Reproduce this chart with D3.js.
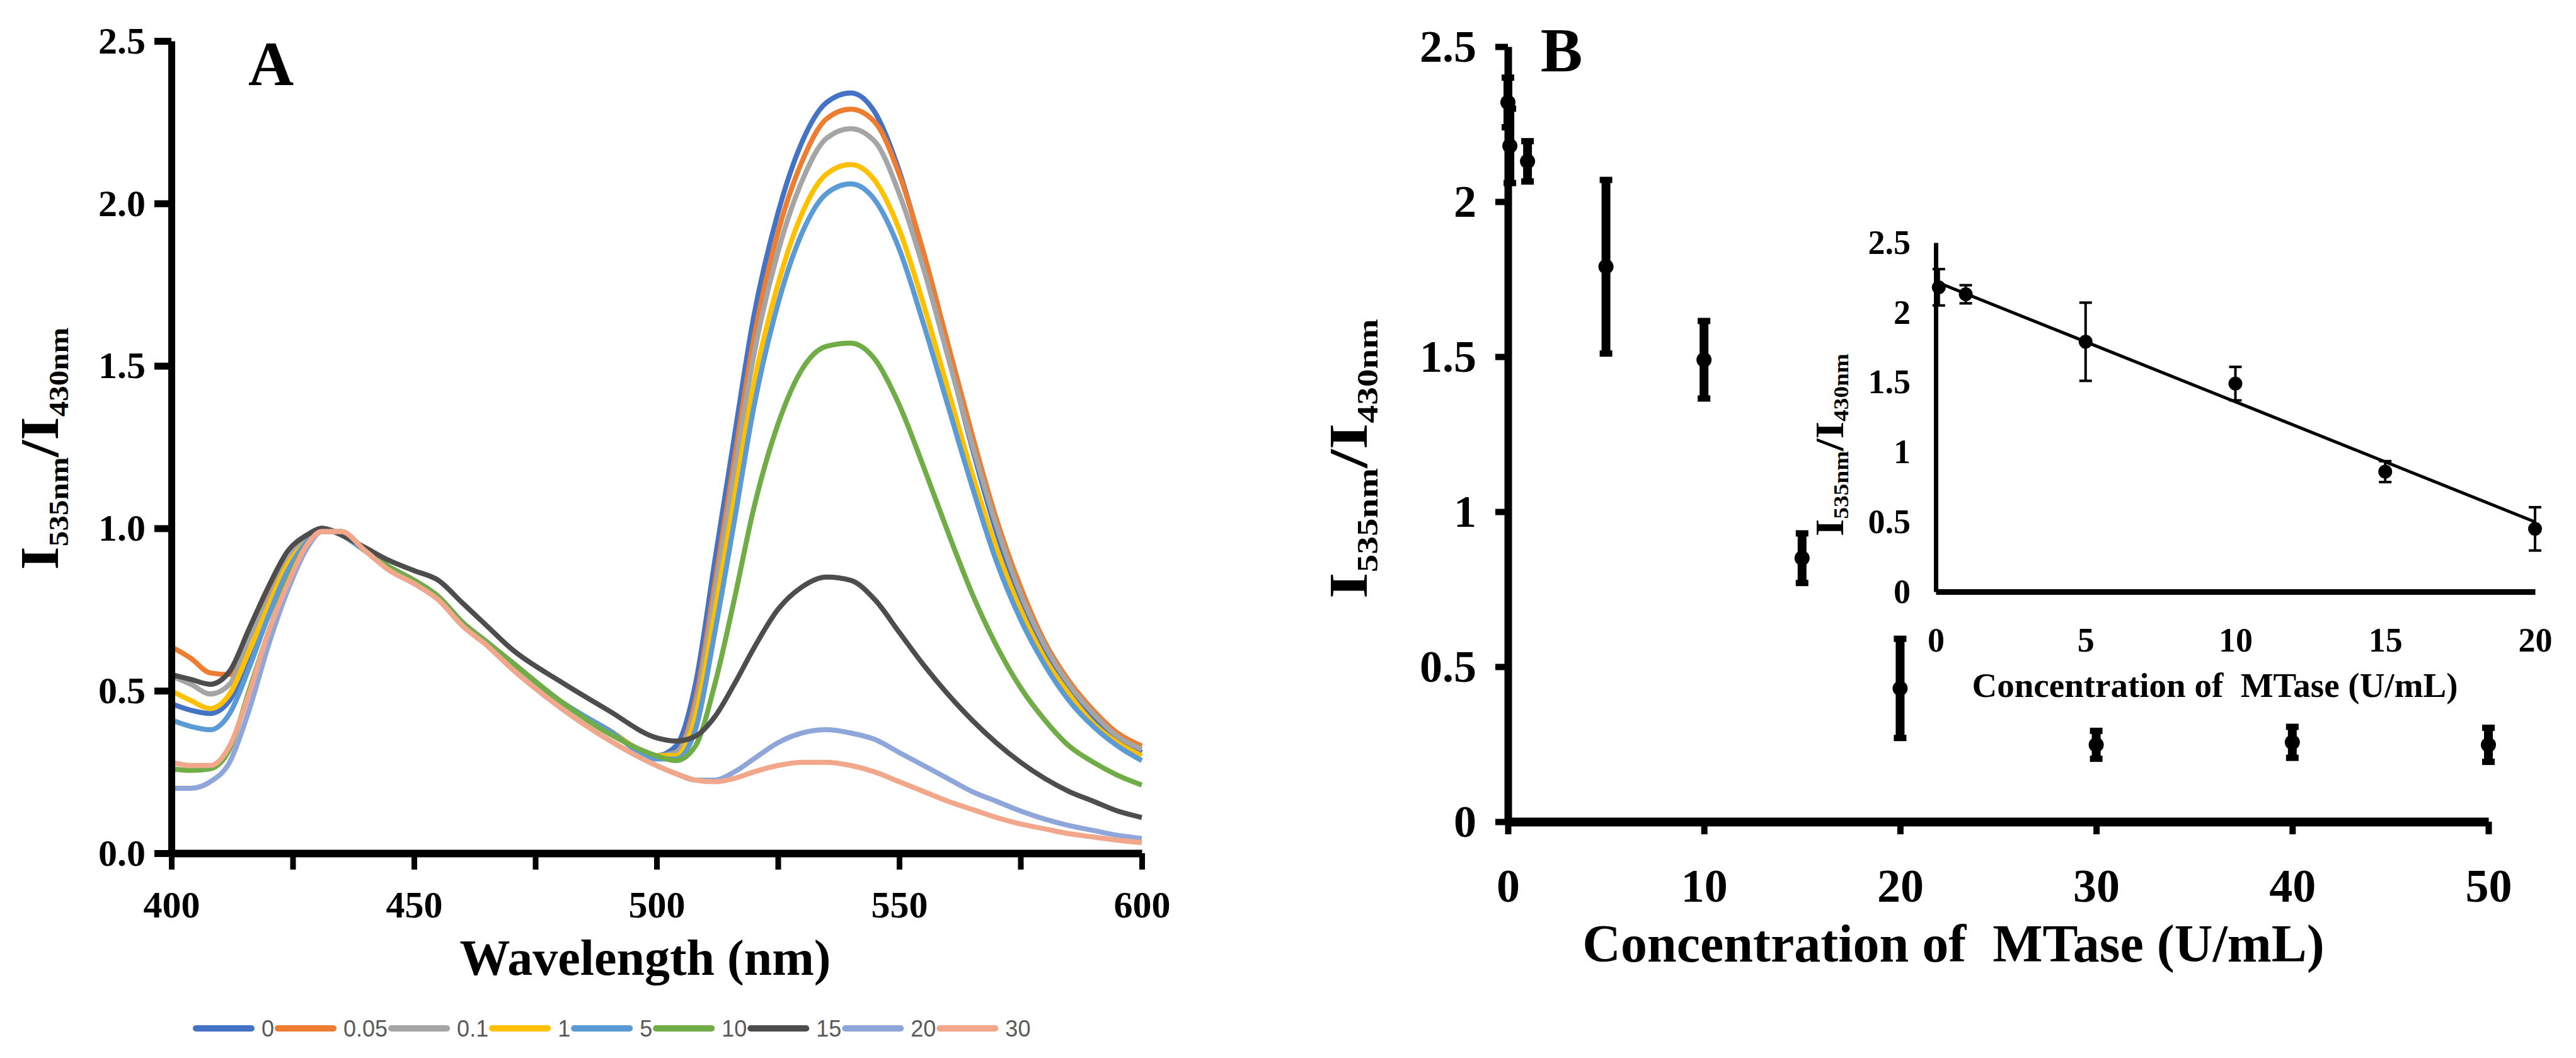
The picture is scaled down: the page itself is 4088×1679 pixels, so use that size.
<!DOCTYPE html>
<html lang="en">
<head>
<meta charset="utf-8">
<title>MTase ratio spectra</title>
<script src="https://d3js.org/d3.v7.min.js"></script>
<style>
  body { margin: 0; background: #ffffff; }
  svg text { font-family: "Liberation Serif", "Times New Roman", serif; font-weight: bold; }
</style>
</head>
<body>
<script>
// ---- panel A: ratio spectra for each MTase concentration (U/mL) ----
const wavelengths = [400,404,408,412,416,420,424,428,431,435,440,445,450,455,460,465,470,480,490,500,
                     504,508,512,516,520,525,530,535,540,545,550,555,560,565,570,575,580,585,590,595,600];
const concLabels = ["0","0.05","0.1","1","5","10","15","20","30"];
const spec0   = [.46,.44,.43,.47,.60,.75,.88,.96,1.00,.98,.93,.88,.84,.79,.71,.65,.59,.47,.38,.30,
                 .33,.52,.90,1.28,1.65,1.97,2.19,2.31,2.34,2.28,2.10,1.84,1.54,1.25,.99,.78,.62,.50,.41,.35,.31];
const spec005 = [.635,.60,.555,.55,.67,.79,.90,.97,1.00,.98,.93,.88,.84,.79,.71,.65,.59,.47,.38,.30,
                 .31,.47,.83,1.21,1.58,1.91,2.13,2.26,2.29,2.25,2.09,1.85,1.57,1.29,1.03,.82,.65,.53,.44,.37,.33];
const spec01  = [.545,.52,.49,.52,.66,.78,.90,.97,1.00,.98,.93,.88,.84,.79,.71,.65,.59,.47,.38,.30,
                 .31,.45,.80,1.17,1.53,1.85,2.07,2.20,2.23,2.19,2.03,1.80,1.53,1.26,1.01,.80,.64,.52,.43,.36,.32];
const spec1   = [.50,.47,.445,.49,.62,.76,.89,.96,1.00,.98,.93,.88,.84,.79,.71,.65,.59,.47,.38,.30,
                 .30,.42,.74,1.09,1.44,1.75,1.97,2.09,2.12,2.07,1.92,1.69,1.43,1.17,.94,.75,.60,.49,.40,.34,.30];
const spec5   = [.41,.39,.38,.43,.57,.73,.87,.96,1.00,.98,.93,.88,.84,.79,.71,.65,.59,.47,.38,.29,
                 .29,.38,.68,1.02,1.37,1.69,1.91,2.03,2.06,2.01,1.86,1.63,1.38,1.13,.90,.72,.58,.47,.39,.33,.285];
const spec10  = [.26,.255,.26,.32,.50,.68,.84,.95,.99,.99,.93,.88,.84,.79,.71,.65,.59,.47,.37,.30,
                 .285,.33,.52,.78,1.06,1.32,1.49,1.56,1.57,1.52,1.38,1.19,.99,.80,.64,.51,.41,.33,.28,.24,.21];
const spec15  = [.55,.535,.52,.56,.69,.82,.93,.98,1.00,.98,.94,.90,.87,.84,.77,.70,.63,.53,.44,.355,
                 .345,.36,.42,.52,.63,.75,.82,.85,.84,.78,.68,.58,.49,.41,.34,.28,.23,.19,.16,.13,.11];
const spec20  = [.20,.20,.22,.28,.44,.64,.81,.94,.99,.99,.93,.87,.83,.78,.70,.64,.57,.45,.35,.27,
                 .245,.225,.225,.25,.29,.34,.37,.38,.37,.35,.31,.27,.23,.19,.16,.13,.105,.085,.07,.055,.045];
const spec30  = [.28,.27,.27,.33,.49,.68,.83,.95,.99,.99,.93,.87,.83,.78,.70,.64,.57,.45,.35,.27,
                 .245,.225,.22,.23,.25,.27,.28,.28,.27,.25,.22,.19,.16,.135,.11,.09,.075,.06,.05,.04,.033];
const yTicksA = [0, 0.5, 1, 1.5, 2, 2.5];
const xTicksA = [400,425,450,475,500,525,550,575,600];

// ---- panel B: ratio vs concentration, with the linear-range inset ----
const concB  = [0, 0.1, 1, 5, 10, 15, 20, 30, 40, 50];
const ratioB = [2.32, 2.18, 2.13, 1.79, 1.49, 0.85, 0.43, 0.248, 0.256, 0.248];
const errB   = [0.08, 0.12, 0.065, 0.28, 0.125, 0.08, 0.16, 0.045, 0.05, 0.055];
const concInset  = [0.1, 1, 5, 10, 15, 20];
const ratioInset = [2.18, 2.13, 1.79, 1.49, 0.86, 0.45];
const errInset   = [0.13, 0.065, 0.28, 0.12, 0.075, 0.155];
const fitLine = [[0, 2.22], [20, 0.50]];
const yTicksB = [0, 0.5, 1, 1.5, 2, 2.5];
const xTicksB = [0, 10, 20, 30, 40, 50];
const xTicksInset = [0, 5, 10, 15, 20];

const palette = ["#4472C4","#ED7D31","#A5A5A5","#FFC000","#5B9BD5","#70AD47","#4D4D4D","#8FA6DA","#F2A68A"];
const spectra = [spec0, spec005, spec01, spec1, spec5, spec10, spec15, spec20, spec30];

const svg = d3.select("body").append("svg")
  .attr("width", 4088)
  .attr("height", 1679);

function styleAxis(g, size, domainW, tickW) {
  g.attr("font-family", null).attr("font-size", size);
  g.select(".domain").attr("stroke", "#000").attr("stroke-width", domainW);
  g.selectAll(".tick line").attr("stroke", "#000").attr("stroke-width", tickW);
  g.selectAll(".tick text").attr("fill", "#000");
}

// rotated I535nm/I430nm title, stretched along its baseline to a given length
function ratioTitle(x, y, big, small, drop, len) {
  const t = svg.append("text")
    .attr("text-anchor", "middle")
    .attr("font-size", big);
  t.append("tspan").text("I");
  t.append("tspan").attr("font-size", small).attr("dy", drop).text("535nm");
  t.append("tspan").attr("dy", -drop).text("/I");
  t.append("tspan").attr("font-size", small).attr("dy", drop).text("430nm");
  const natural = t.node().getComputedTextLength();
  t.attr("transform", `translate(${x},${y}) rotate(-90) scale(${len / natural},1)`);
}

const plainNum = d => String(d);

// ===== Panel A =====
const xA = d3.scaleLinear().domain([400, 600]).range([272, 1812]);
const yA = d3.scaleLinear().domain([0, 2.5]).range([1354, 65]);

const line = d3.line()
  .x((d, i) => xA(wavelengths[i]))
  .y(d => yA(d))
  .curve(d3.curveMonotoneX);

svg.append("g").selectAll("path")
  .data(spectra)
  .join("path")
  .attr("d", line)
  .attr("fill", "none")
  .attr("stroke", (d, i) => palette[i])
  .attr("stroke-width", 8);

svg.append("g")
  .attr("transform", "translate(0,1354)")
  .call(d3.axisBottom(xA).tickValues(xTicksA).tickSize(26).tickPadding(33).tickSizeOuter(0)
    .tickFormat(d => d % 50 === 0 ? d : ""))
  .call(g => styleAxis(g, 60, 12, 9));

svg.append("g")
  .attr("transform", "translate(272,0)")
  .call(d3.axisLeft(yA).tickValues(yTicksA).tickSize(27).tickPadding(14).tickSizeOuter(0)
    .tickFormat(d3.format(".1f")))
  .call(g => styleAxis(g, 60, 11, 11));

svg.append("text").attr("x", 430).attr("y", 135).attr("text-anchor", "middle")
  .attr("font-size", 100).text("A");

svg.append("text").attr("x", 1024).attr("y", 1547).attr("text-anchor", "middle")
  .attr("font-size", 80).text("Wavelength (nm)");

ratioTitle(92, 712, 86, 44, 16, 385);

// legend
let lx = 306;
concLabels.forEach((lab, i) => {
  svg.append("line")
    .attr("x1", lx + 5).attr("x2", lx + 93)
    .attr("y1", 1632).attr("y2", 1632)
    .attr("stroke", palette[i]).attr("stroke-width", 10).attr("stroke-linecap", "round");
  const t = svg.append("text")
    .attr("x", lx + 109).attr("y", 1645)
    .style("font-family", "'Liberation Sans', Arial, sans-serif")
    .style("font-weight", "normal")
    .attr("font-size", 36).attr("fill", "#595959")
    .text(lab);
  lx = lx + 109 + t.node().getComputedTextLength() + 1;
});

// ===== Panel B =====
const xB = d3.scaleLinear().domain([0, 50]).range([2393, 3949]);
const yB = d3.scaleLinear().domain([0, 2.5]).range([1304, 74]);

svg.append("g")
  .attr("transform", "translate(0,1304)")
  .call(d3.axisBottom(xB).tickValues(xTicksB).tickSize(20).tickPadding(54).tickSizeOuter(0)
    .tickFormat(plainNum))
  .call(g => styleAxis(g, 74, 14, 10));

svg.append("g")
  .attr("transform", "translate(2393,0)")
  .call(d3.axisLeft(yB).tickValues(yTicksB).tickSize(20).tickPadding(30).tickSizeOuter(0)
    .tickFormat(plainNum))
  .call(g => styleAxis(g, 72, 12, 10));

const ptsB = concB.map((c, i) => ({ x: c, y: ratioB[i], e: errB[i] }));
const gB = svg.append("g");
gB.selectAll("line.bar").data(ptsB).join("line").attr("class", "bar")
  .attr("x1", d => xB(d.x)).attr("x2", d => xB(d.x))
  .attr("y1", d => yB(d.y - d.e)).attr("y2", d => yB(d.y + d.e))
  .attr("stroke", "#000").attr("stroke-width", 14);
gB.selectAll("line.capHi").data(ptsB).join("line").attr("class", "capHi")
  .attr("x1", d => xB(d.x) - 10).attr("x2", d => xB(d.x) + 10)
  .attr("y1", d => yB(d.y + d.e)).attr("y2", d => yB(d.y + d.e))
  .attr("stroke", "#000").attr("stroke-width", 10);
gB.selectAll("line.capLo").data(ptsB).join("line").attr("class", "capLo")
  .attr("x1", d => xB(d.x) - 10).attr("x2", d => xB(d.x) + 10)
  .attr("y1", d => yB(d.y - d.e)).attr("y2", d => yB(d.y - d.e))
  .attr("stroke", "#000").attr("stroke-width", 10);
gB.selectAll("circle").data(ptsB).join("circle")
  .attr("cx", d => xB(d.x)).attr("cy", d => yB(d.y)).attr("r", 12).attr("fill", "#000");

svg.append("text").attr("x", 2478).attr("y", 113).attr("text-anchor", "middle")
  .attr("font-size", 100).text("B");

svg.append("text").attr("x", 3100).attr("y", 1526).attr("text-anchor", "middle")
  .attr("font-size", 84).style("white-space", "pre")
  .text("Concentration of  MTase (U/mL)");

ratioTitle(2169, 728, 86, 46, 17, 444);

// inset
const xI = d3.scaleLinear().domain([0, 20]).range([3072, 4023]);
const yI = d3.scaleLinear().domain([0, 2.5]).range([939, 385]);

svg.append("g")
  .attr("transform", "translate(0,939)")
  .call(d3.axisBottom(xI).tickValues(xTicksInset).tickSize(0).tickPadding(57).tickSizeOuter(0)
    .tickFormat(plainNum))
  .call(g => styleAxis(g, 54, 9, 0));

svg.append("g")
  .attr("transform", "translate(3072,0)")
  .call(d3.axisLeft(yI).tickValues(yTicksB).tickSize(0).tickPadding(40).tickSizeOuter(0)
    .tickFormat(plainNum))
  .call(g => styleAxis(g, 54, 7, 0));

svg.append("path")
  .datum(fitLine)
  .attr("d", d3.line().x(d => xI(d[0])).y(d => yI(d[1])))
  .attr("stroke", "#000").attr("stroke-width", 5).attr("fill", "none");

const ptsI = concInset.map((c, i) => ({ x: c, y: ratioInset[i], e: errInset[i] }));
const gI = svg.append("g");
gI.selectAll("line.bar").data(ptsI).join("line").attr("class", "bar")
  .attr("x1", d => xI(d.x)).attr("x2", d => xI(d.x))
  .attr("y1", d => yI(d.y - d.e)).attr("y2", d => yI(d.y + d.e))
  .attr("stroke", "#000").attr("stroke-width", 4);
gI.selectAll("line.capHi").data(ptsI).join("line").attr("class", "capHi")
  .attr("x1", d => xI(d.x) - 10).attr("x2", d => xI(d.x) + 10)
  .attr("y1", d => yI(d.y + d.e)).attr("y2", d => yI(d.y + d.e))
  .attr("stroke", "#000").attr("stroke-width", 4);
gI.selectAll("line.capLo").data(ptsI).join("line").attr("class", "capLo")
  .attr("x1", d => xI(d.x) - 10).attr("x2", d => xI(d.x) + 10)
  .attr("y1", d => yI(d.y - d.e)).attr("y2", d => yI(d.y - d.e))
  .attr("stroke", "#000").attr("stroke-width", 4);
gI.selectAll("circle").data(ptsI).join("circle")
  .attr("cx", d => xI(d.x)).attr("cy", d => yI(d.y)).attr("r", 11).attr("fill", "#000");

svg.append("text").attr("x", 3515).attr("y", 1106).attr("text-anchor", "middle")
  .attr("font-size", 55).style("white-space", "pre")
  .text("Concentration of  MTase (U/mL)");

ratioTitle(2925, 706, 64, 34, 8, 290);
</script>
</body>
</html>
